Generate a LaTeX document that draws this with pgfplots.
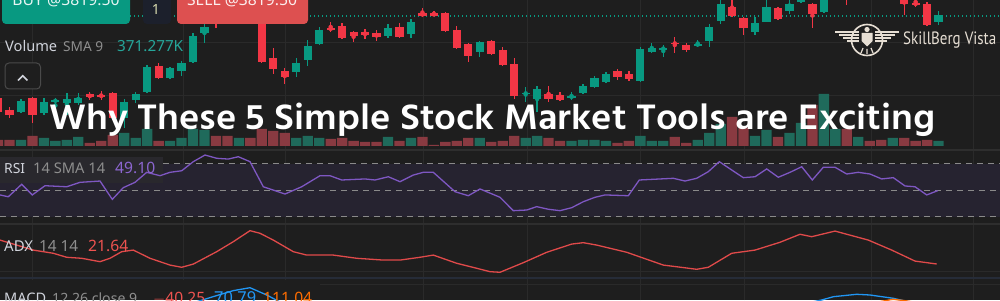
\documentclass[border=0pt]{standalone}
\usepackage{fontspec}
\usepackage{graphicx}
\usepackage{pgfplots}
\usepackage{pgfplotstable}
\pgfplotsset{compat=1.18}
\setmainfont{Noto Sans}
\newfontfamily\titlefont{Hind Siliguri}
\newfontfamily\uifont{Noto Sans}
\newfontfamily\logofont{PT Sans}

\definecolor{bg}{HTML}{1E1E1E}
\definecolor{gridc}{HTML}{2A2A2A}
\definecolor{sepc}{HTML}{2E2E2E}
\definecolor{bluesep}{HTML}{262C38}
\definecolor{upc}{HTML}{089981}
\definecolor{dnc}{HTML}{F23645}
\definecolor{volup}{HTML}{1F6A5B}
\definecolor{voldn}{HTML}{893A41}
\definecolor{rsiline}{HTML}{7E57C2}
\definecolor{rsiband}{HTML}{262330}
\definecolor{labelbox}{HTML}{29282D}
\definecolor{dashc}{HTML}{8A8A8A}
\definecolor{adxline}{HTML}{E04A4A}
\definecolor{macdblue}{HTML}{2196F3}
\definecolor{macdorange}{HTML}{FF6D00}
\definecolor{buy}{HTML}{089981}
\definecolor{sell}{HTML}{DD5050}
\definecolor{navybox}{HTML}{1C202C}
\definecolor{lgray}{HTML}{8E8E8E}
\definecolor{lwhite}{HTML}{D1D4DC}
\definecolor{lteal}{HTML}{26A69A}
\definecolor{lpurple}{HTML}{8C66D0}
\definecolor{lred}{HTML}{EF5350}
\definecolor{cream}{HTML}{E6DED3}

% candles: pixel-read values (o h l c), k = candle index
\pgfplotstableread{
k o h l c
1 112 99 113 101
3 113 98 115 102
4 101.5 98 113 100
5 103 93 115 99
6 103 93 105 98
10 118 99 128 102
11 100 92 103 94
12 92 65 93 67
14 78 67 79 68
15 71 61 76 63
16 62 33 63 36
17 33 23 43 27
20 18 5 22 8
25 72 58 77 63
26 60 40 66 46
27 44 27 45 30
33 36 24 38 28
35 34 19 38 22
41 52 41 57 42
45 94 87 102 92.8
46 99 86 112 89
49 97.5 92 100 96.3
50 93 84 94 86
51 87 76 88 78
52 82 72 83 74
55 81 47 82 49
56 52 43 53 48
57 49.2 45 57 48
60 45.2 40 47 44
61 41 24 47 27
62 21 -3 24 4
65 32 17 35 23
66 22 -2 22.5 7
68 11 -3 14 4
69 2 -14 3 -10
71 12 -10 13 -5
72 -5 -25 -2 -20
74 -3 -20 -1 -15
77 -2 -16 0 -12
81 22 11 25 15
}\upcandles

\pgfplotstableread{
k o h l c
-1 98 95 115 112
0 110 107 118 115
2 98 97 123 115
7 94 92 100 97.5
8 95.3 91 100 96.5
9 93 92 120 118
13 66 63 79 78
18 8 5 28 20
19 12 8 22 20
21 10 6 22 18
22 18 15 63 62
23 58 48 74 69
24 71 68 84 77
28 28.2 22 32 29.5
29 26 23 39 38
30 32 31.5 42 36
31 32 29 39 35
32 33 30 41 37
34 27 23 38 37
36 13 8 17 16
37 13 11 16.5 16
38 13 12 32 31
39 30 26 49 48
40 44 43 62 56
42 41 40 55 54
43 50 47 66 65
44 64 58 99 96
47 94 86 102 99
48 95 92 101 100
53 71 69 80 77
54 74 71 81 79
58 42.8 37 53 44
59 45 43 52 50
63 7 -2 17 16
64 18 17 35 28
67 8 7 20 19
70 4 3 28 14
73 -15 -20 5 -5
75 -20 -25 -5 -8
76 -10 -14 -1 -2
78 -5 -10 15 4
79 3.3 -3 7 4.5
80 4 2 26 25
}\dncandles

\pgfplotstableread{
k v
1 6
3 8
4 5
5 6
6 9
10 13
11 8
12 17
14 5
15 8
16 17
17 16
20 8
25 8
26 10
27 8
33 9
35 8
41 8
45 8
46 10
49 5
50 6
51 6
52 5
55 10
56 5
57 5
60 6
61 13
62 22
65 10
66 16
68 13
69 23
71 52
72 17
74 9
77 8
81 5
}\volupdata

\pgfplotstableread{
k v
-1 6
0 6
2 10
7 3
8 5
9 11
13 5
18 10
19 10
21 8
22 17
23 15
24 13
28 7
29 8
30 5
31 4
32 4
34 5
36 9
37 1
38 4
39 5
40 8
42 4
43 5
44 10
47 8
48 5
53 3
54 5
58 9
59 3
63 29
64 18
67 9
70 41
73 17
75 5
76 6
78 8
79 5
80 6
}\voldndata

\pgfplotstableread{
x r
0 46.2
8.3 44.8
21.7 54.4
32.3 46.2
45 53.3
66.7 52.5
80 55.9
100 56.9
112.3 42.8
123.3 51.8
135 55.9
146.7 63.6
160 61.0
170 63.6
181.7 64.8
193.3 71.8
205 76.9
216.7 74.4
228.3 73.8
238.3 75.6
250 71.8
263.3 52.5
285 46.9
301.7 52.5
320 61.0
330 61.0
341.7 57.7
365 58.5
375 57.7
388.3 60.2
400 56.4
413.3 61.5
423.3 63.6
433.3 63.6
455 48.7
468.3 45.6
480 50.8
500 44.4
513.3 34.1
526.7 34.6
536.7 37.2
548.3 35.2
560 34.1
571.7 36.4
583.3 41.0
595 44.4
605 46.2
628.3 45.6
639.3 57.7
673.3 59.0
685 56.9
696.7 59.0
708.3 64.1
719.3 71.8
731.7 65.4
743.3 59.5
755 60.2
766.7 66.2
778.3 59.8
790 63.6
801.7 67.9
812.3 57.7
823.3 67.5
835 67.5
846.7 62.3
858.3 63.6
870 62.3
881.7 58.5
893.3 59.5
905 53.1
915 52.5
926.7 46.2
937.7 49.5
}\rsidata

\pgfplotstableread{
x a
0 33.6
33.3 28.6
53.3 27.0
66.7 25.0
81.7 24.5
100 22.8
110 24.5
121.7 27.8
133.3 28.6
150 24.5
170 21.1
181.7 20.0
193.3 21.6
216.7 27.8
233.3 32.8
250 38.3
260 37.0
273.3 33.6
293.3 27.8
306.7 26.1
333.3 26.1
356.7 24.5
383.3 23.6
400 23.6
420 25.0
433.3 26.1
456.7 22.0
476.7 19.5
490 17.8
500 17.5
523.3 22.3
546.7 27.5
571.7 31.6
583.3 32.3
596.7 31.1
626.7 27.5
663.3 21.1
696.7 19.0
708.3 20.0
731.7 27.0
755 28.6
780 32.5
800 36.5
811.7 35.3
835 38.1
868.3 33.6
891.7 28.6
915 23.1
936.7 21.64
}\adxdata

\pgfplotstableread{
x m
196 120
213 146.5
233 176.5
250 191.5
266.7 155
280 120
500 nan
812 120
821.7 130
833.3 146.5
856.7 158.5
870 155
893.3 138.5
905 125
914 118
}\macddata

\pgfplotstableread{
x s
880 122
893 133.5
906 126
916 118
}\signaldata

\pgfplotsset{pane/.style={scale only axis, width=1000pt, xmin=0, xmax=1000,
  hide axis, clip=true, anchor=south west, enlargelimits=false}}

\newcommand\lbl[5]{\node[anchor=base west, inner sep=0pt, text=#4] at (#1,#2) {\resizebox{#3pt}{!}{\uifont #5}};}

\begin{document}
\begin{tikzpicture}[x=1pt,y=1pt]
\useasboundingbox (0,0) rectangle (1000,300);
\begin{scope}
\clip (0,0) rectangle (1000,300);
\fill[bg] (0,0) rectangle (1000,300);
% grid and pane separators
\foreach \gx in {32,183,285,423,527,640,744,871,973} {\draw[gridc, line width=1pt] (\gx,0) -- (\gx,300);}
\draw[gridc, line width=1pt] (0,257) -- (1000,257);
\draw[gridc, line width=1pt] (0,204) -- (1000,204);
\draw[sepc, line width=1.2pt] (0,150) -- (1000,150);
\draw[sepc, line width=1.2pt] (0,76) -- (1000,76);
\draw[gridc, line width=1pt] (0,29) -- (1000,29);
\draw[bluesep, line width=1.2pt] (0,22) -- (1000,22);
\draw[gridc, line width=1pt] (0,16) -- (1000,16);

% volume
\begin{axis}[pane, at={(0pt,154pt)}, height=60pt, ymin=0, ymax=60]
\addplot[ybar, bar width=10.3pt, bar shift=0pt, fill=volup, draw=none] table[x expr=9.5+11.47*\thisrow{k}, y=v] \volupdata;
\addplot[ybar, bar width=10.3pt, bar shift=0pt, fill=voldn, draw=none] table[x expr=9.5+11.47*\thisrow{k}, y=v] \voldndata;
\end{axis}

% candles
\begin{axis}[pane, at={(0pt,150pt)}, height=150pt, ymin=0, ymax=150, y dir=reverse]
\draw[upc, line width=1.1pt, dash pattern=on 1.2pt off 2.8pt] (axis cs:130,16) -- (axis cs:1000,16);
\addplot[upc, only marks, mark=none, error bars/.cd, y dir=both, y explicit, error mark=none,
  error bar style={line width=1.3pt, draw=upc}]
  table[x expr=9.5+11.47*\thisrow{k}, y expr=(\thisrow{h}+\thisrow{l})/2, y error expr=abs(\thisrow{l}-\thisrow{h})/2] \upcandles;
\addplot[dnc, only marks, mark=none, error bars/.cd, y dir=both, y explicit, error mark=none,
  error bar style={line width=1.3pt, draw=dnc}]
  table[x expr=9.5+11.47*\thisrow{k}, y expr=(\thisrow{h}+\thisrow{l})/2, y error expr=abs(\thisrow{l}-\thisrow{h})/2] \dncandles;
\addplot[upc, only marks, mark=none, error bars/.cd, y dir=both, y explicit, error mark=none,
  error bar style={line width=8.2pt, draw=upc}]
  table[x expr=9.5+11.47*\thisrow{k}, y expr=(\thisrow{o}+\thisrow{c})/2, y error expr=abs(\thisrow{o}-\thisrow{c})/2] \upcandles;
\addplot[dnc, only marks, mark=none, error bars/.cd, y dir=both, y explicit, error mark=none,
  error bar style={line width=8.2pt, draw=dnc}]
  table[x expr=9.5+11.47*\thisrow{k}, y expr=(\thisrow{o}+\thisrow{c})/2, y error expr=abs(\thisrow{o}-\thisrow{c})/2] \dncandles;
\end{axis}

% RSI pane decorations
\fill[rsiband] (0,83.4) rectangle (1000,136);
\fill[labelbox] (0,117) rectangle (163,143);
\draw[dashc, line width=1pt, dash pattern=on 6pt off 5pt] (163,136) -- (1000,136);
\draw[dashc, line width=1pt, dash pattern=on 6pt off 5pt] (0,110) -- (1000,110);
\draw[dashc, line width=1pt, dash pattern=on 6pt off 5pt] (0,83.4) -- (1000,83.4);
\begin{axis}[pane, at={(0pt,76pt)}, height=74pt, ymin=23.85, ymax=80.77]
\addplot[rsiline, line width=1.3pt] table[x=x, y=r] \rsidata;
\end{axis}

% ADX
\begin{axis}[pane, at={(0pt,22pt)}, height=54pt, ymin=14.64, ymax=41.64]
\addplot[adxline, line width=1.3pt] table[x=x, y=a] \adxdata;
\end{axis}

% MACD
\fill[bg] (0,0) rectangle (320,20.5);
\begin{axis}[pane, at={(0pt,0pt)}, height=22pt, ymin=130, ymax=240, unbounded coords=jump]
\addplot[macdblue, line width=1.3pt] table[x=x, y=m] \macddata;
\addplot[macdorange, line width=1.3pt] table[x=x, y=s] \signaldata;
\end{axis}

% pane labels
\lbl{5}{248.3}{52}{lwhite}{Volume}
\lbl{63}{248.3}{40}{lgray}{SMA 9}
\lbl{117}{248.3}{66}{lteal}{371.277K}
\lbl{4}{126.7}{21}{lwhite}{RSI}
\lbl{33}{126.7}{72}{lgray}{14 SMA 14}
\lbl{115}{126.7}{40}{lpurple}{49.10}
\lbl{4}{48.3}{29}{lwhite}{ADX}
\lbl{39}{48.3}{39}{lgray}{14 14}
\lbl{88}{48.3}{40}{lred}{21.64}
\lbl{4}{-3.3}{42}{lwhite}{MACD}
\lbl{52}{-3.3}{85}{lgray}{12 26 close 9}
\lbl{153}{-3.3}{52}{lred}{$-$40.25}
\lbl{214}{-3.3}{42}{macdblue}{70.79}
\lbl{263}{-3.3}{49}{macdorange}{111.04}

% collapse button
\draw[gray!45!bg, fill=bg, line width=1pt, rounded corners=4pt] (5,211) rectangle (40.5,237);
\draw[lwhite, line width=1.6pt] (18,219.5) -- (22.7,224.3) -- (27.4,219.5);

% trading buttons
\fill[buy, rounded corners=4pt] (2,276) rectangle (130,312);
\node[anchor=base, inner sep=0pt, text=white!90!buy] at (66,294) {\resizebox{107pt}{!}{\uifont\bfseries BUY @3819.50}};
\fill[navybox, rounded corners=4pt] (143,276) rectangle (171,312);
\node[anchor=base, inner sep=0pt, text=lwhite!80!yellow] at (156,285) {\resizebox{!}{10pt}{\uifont 1}};
\fill[sell, rounded corners=4pt] (177,276) rectangle (308,312);
\node[anchor=base, inner sep=0pt, text=white!90!sell] at (242,294) {\resizebox{110pt}{!}{\uifont\bfseries SELL @3819.50}};

% logo
\begin{scope}[cream]
\draw[line width=1.6pt] (867,260) circle (15.5);
\foreach \yy/\xx in {268/835,265/839,262/843,259/847} {
  \draw[line width=1.6pt] (\xx,\yy) -- (859,\yy);
  \draw[line width=1.6pt] (1734-\xx,\yy) -- (875,\yy);
}
\fill (861.5,267) -- (872.5,267) -- (872.5,259) -- (867,253.5) -- (861.5,259) -- cycle;
\fill (867,270.5) circle (2.6);
\draw[line width=1.2pt] (863,252) -- (861,247) (867,251) -- (867,246) (871,252) -- (873,247);
\end{scope}
\node[anchor=base west, inner sep=0pt, text=cream] at (903,255) {\resizebox{93pt}{12.7pt}{\logofont SkillBerg Vista}};

% title
\node[anchor=base west, inner sep=0pt, text=white] at (49,170.5) {\resizebox{886pt}{26.5pt}{\titlefont\bfseries Why These 5 Simple Stock Market Tools are Exciting}};
\end{scope}
\end{tikzpicture}
\end{document}
